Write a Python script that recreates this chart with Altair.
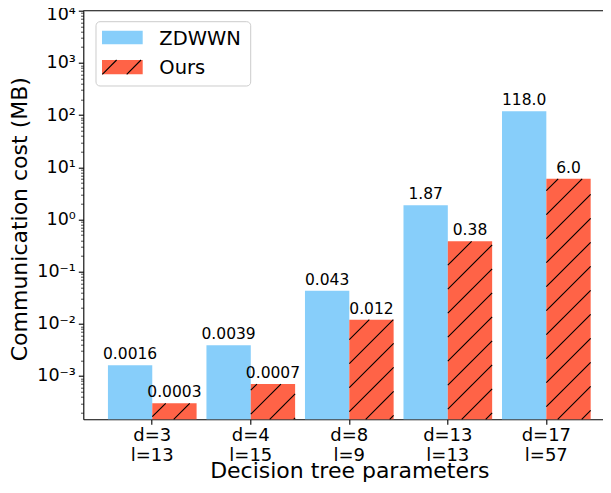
import altair as alt
import pandas as pd

# ---- data -------------------------------------------------------------
GROUPS = ["d=3|\u00a0l=13", "d=4|\u00a0l=15", "d=8|\u00a0l=9", "d=13|\u00a0l=13", "d=17|\u00a0l=57"]
SERIES = ["ZDWWN", "Ours"]
ZDWWN = [0.0016, 0.0039, 0.043, 1.87, 118.0]
OURS = [0.0003, 0.0007, 0.012, 0.38, 6.0]
ZDWWN_LABELS = ["0.0016", "0.0039", "0.043", "1.87", "118.0"]
OURS_LABELS = ["0.0003", "0.0007", "0.012", "0.38", "6.0"]
COLORS = ["#87CEFA", "#FF6347"]
Y_TICK_LABELS = ["10⁻³", "10⁻²", "10⁻¹", "10⁰", "10¹", "10²", "10³", "10⁴"]
Y_MIN, Y_MAX = 1.48e-4, 1e4

FONT = "DejaVu Sans"
W, H = 519.7, 408.6
X_RANGE = 532          # the plot area runs past the right edge of the picture
HATCH_STEP = 24

rows = []
for g, a, b, la, lb in zip(GROUPS, ZDWWN, OURS, ZDWWN_LABELS, OURS_LABELS):
    rows.append({"group": g, "series": "ZDWWN", "value": a, "label": la})
    rows.append({"group": g, "series": "Ours", "value": b, "label": lb})
df = pd.DataFrame(rows)

hatch_rows = []
for g, b in zip(GROUPS, OURS):
    for k in range(45):
        hatch_rows.append({"group": g, "value": b, "k": k})
hatch_df = pd.DataFrame(hatch_rows)

# y ticks: majors and minors
majors = [10.0 ** e for e in range(-3, 5)]
minors = [m * 10.0 ** e for e in range(-4, 4) for m in range(2, 10) if Y_MIN <= m * 10.0 ** e <= Y_MAX]
y_values = majors + minors

lbl_arr = "[" + ",".join("'" + s + "'" for s in Y_TICK_LABELS) + "]"
is_major = "abs(log(datum.value)/LN10 - round(log(datum.value)/LN10)) < 1e-6"
y_label_expr = f"{is_major} ? {lbl_arr}[round(log(datum.value)/LN10)+3] : ''"

x_scale = alt.Scale(domain=GROUPS, range=[0, X_RANGE], paddingInner=0.1, paddingOuter=0.25)
xo_scale = alt.Scale(domain=SERIES, paddingInner=0, paddingOuter=0)
y_scale = alt.Scale(type="log", domain=[Y_MIN, Y_MAX], nice=False)
color_scale = alt.Scale(domain=SERIES, range=COLORS)

x_enc = alt.X(
    "group:N", sort=GROUPS, scale=x_scale,
    axis=alt.Axis(
        title="Decision tree parameters", labelAngle=0,
        labelExpr="split(datum.label, '|')", labelFontSize=18, labelLineHeight=20.5,
        tickSize=5, tickWidth=1.1, labelPadding=2,
        titleFontSize=22, titleY=58, titleBaseline="alphabetic",
    ),
)
y_enc = alt.Y(
    "value:Q", scale=y_scale, stack=None,
    axis=alt.Axis(
        title="Communication cost (MB)", values=y_values, labelExpr=y_label_expr,
        labelFontSize=17.5, labelPadding=3,
        labelOffset={"condition": {"test": "datum.value > 9999", "value": 3.5}, "value": 0},
        tickSize={"condition": {"test": is_major, "value": 5}, "value": 2.8},
        tickWidth={"condition": {"test": is_major, "value": 1.1}, "value": 0.7},
        titleFontSize=22, titleX=-57, titleY=208, titleBaseline="alphabetic",
    ),
)
xo_enc = alt.XOffset("series:N", sort=SERIES, scale=xo_scale)

base = alt.Chart(df)
bars = base.transform_calculate(bottom=str(Y_MIN)).mark_bar().encode(
    x=x_enc, xOffset=xo_enc, y=y_enc, y2="bottom:Q",
    color=alt.Color("series:N", scale=color_scale, legend=None),
)
texts = base.mark_text(baseline="bottom", dy=-3, fontSize=15.5, font=FONT, color="black").encode(
    x=x_enc, xOffset=xo_enc, y=y_enc, text="label:N",
)

L = "(scale('x', datum.group) + scale('xOffset', 'Ours'))"
R = "(scale('x', datum.group) + scale('xOffset', 'Ours') + bandwidth('xOffset'))"
T = "scale('y', datum.value)"
B = "range('y')[0]"
C = f"(datum.k * {HATCH_STEP} + 19)"
XA = f"max({L}, {C} - {B})"
XB = f"max({XA}, min({R}, {C} - {T}))"
hatch = alt.Chart(hatch_df).mark_rule(color="black", strokeWidth=1.1).encode(
    x={"value": {"expr": XA}},
    y={"value": {"expr": f"{C} - {XA}"}},
    x2={"value": {"expr": XB}},
    y2={"value": {"expr": f"{C} - {XB}"}},
)

one = pd.DataFrame({"a": [0]})
# top spine (the right one lies outside the picture)
top_spine = alt.Chart(one).mark_rule(color="black", strokeWidth=1.1).encode(
    x=alt.value(0), x2=alt.value(X_RANGE), y=alt.value(0))

# ---- legend (drawn by hand so that the hatch shows) --------------------
leg_frame = alt.Chart(one).mark_rect(
    fill="white", fillOpacity=0.8, stroke="#cccccc", strokeWidth=1, cornerRadius=4
).encode(x=alt.value(12.7), x2=alt.value(167.4), y=alt.value(11), y2=alt.value(75.3))
leg_sym1 = alt.Chart(one).mark_rect(color=COLORS[0]).encode(
    x=alt.value(18.7), x2=alt.value(59.4), y=alt.value(20), y2=alt.value(33.6))
leg_sym2 = alt.Chart(one).mark_rect(color=COLORS[1]).encode(
    x=alt.value(18.7), x2=alt.value(59.4), y=alt.value(49.3), y2=alt.value(63.6))
leg_txt1 = alt.Chart(one).mark_text(align="left", baseline="alphabetic", fontSize=19.5, font=FONT, color="black",
    text=SERIES[0]).encode(x=alt.value(76), y=alt.value(34.3))
leg_txt2 = alt.Chart(one).mark_text(align="left", baseline="alphabetic", fontSize=19.5, font=FONT, color="black",
    text=SERIES[1]).encode(x=alt.value(76), y=alt.value(63.4))
leg_hatch_df = pd.DataFrame({"k": [0, 1]})
leg_hatch = alt.Chart(leg_hatch_df).mark_rule(color="black", strokeWidth=1.1).encode(
    x={"value": {"expr": "19 + datum.k * 24.4"}},
    y={"value": {"expr": "63.6"}},
    x2={"value": {"expr": "min(59.4, 33.3 + datum.k * 24.4)"}},
    y2={"value": {"expr": "63.6 - (min(59.4, 33.3 + datum.k * 24.4) - 19 - datum.k * 24.4)"}},
)

chart = alt.layer(bars, hatch, texts, top_spine, leg_frame, leg_sym1, leg_sym2, leg_hatch, leg_txt1, leg_txt2).properties(
    width=W, height=H,
    autosize=alt.AutoSizeParams(type="none"),
    padding={"left": 75.3, "top": 2.7, "right": 0, "bottom": 65},
).configure_view(
    strokeWidth=0, strokeOpacity=0
).configure_axis(
    labelFont=FONT, titleFont=FONT, labelColor="black", titleColor="black",
    tickColor="black", domain=True, domainColor="black", domainWidth=1.1,
    grid=False, titleFontWeight="normal",
)

chart.save("out.html", embed_options={"renderer": "svg", "actions": False})
